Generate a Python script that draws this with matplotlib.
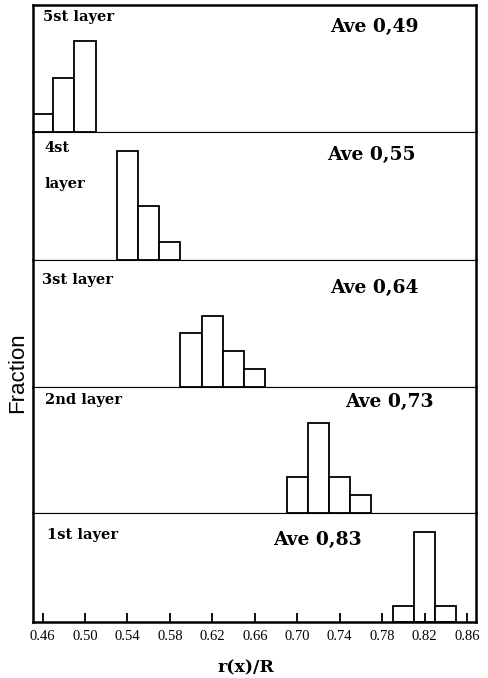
import numpy as np
import matplotlib
matplotlib.use("Agg")
import matplotlib.pyplot as plt

# histogram data, one per layer (bin centre, fraction)
layer_names = ["5st layer", "4st\n\nlayer", "3st layer", "2nd layer", "1st layer"]
averages = ["Ave 0,49", "Ave 0,55", "Ave 0,64", "Ave 0,73", "Ave 0,83"]

bins5 = [0.46, 0.48, 0.50]
frac5 = [0.10, 0.30, 0.50]
bins4 = [0.54, 0.56, 0.58]
frac4 = [0.60, 0.30, 0.10]
bins3 = [0.60, 0.62, 0.64, 0.66]
frac3 = [0.30, 0.39, 0.20, 0.10]
bins2 = [0.70, 0.72, 0.74, 0.76]
frac2 = [0.20, 0.50, 0.20, 0.10]
bins1 = [0.80, 0.82, 0.84]
frac1 = [0.09, 0.50, 0.09]

xticks = [0.46, 0.50, 0.54, 0.58, 0.62, 0.66, 0.70, 0.74, 0.78, 0.82, 0.86]
xtick_labels = ["0.46", "0.50", "0.54", "0.58", "0.62", "0.66", "0.70",
                "0.74", "0.78", "0.82", "0.86"]

all_bins = [bins5, bins4, bins3, bins2, bins1]
all_frac = [frac5, frac4, frac3, frac2, frac1]

# layout in pixels (figure 489 x 678)
W, H = 489, 678
left_px, right_px = 33, 476
edges_px = [5, 132, 260, 387, 513, 622]   # panel boundaries from the top
px_per_unit = 181.0                       # pixels per unit of fraction

# label placement (axes fractions)
name_pos = [(0.023, 0.905), (0.025, 0.735), (0.020, 0.84), (0.028, 0.90), (0.032, 0.80)]
ave_pos = [(0.67, 0.83), (0.664, 0.82), (0.67, 0.78), (0.704, 0.88), (0.542, 0.75)]

fig = plt.figure(figsize=(W / 100, H / 100), dpi=100)
serif = "DejaVu Serif"

axes = []
for i in range(5):
    top, bot = edges_px[i], edges_px[i + 1]
    ax = fig.add_axes([left_px / W, (H - bot) / H,
                       (right_px - left_px) / W, (bot - top) / H])
    ax.bar(all_bins[i], all_frac[i], width=0.02, color="white",
           edgecolor="black", linewidth=1.3, align="center")
    ax.set_xlim(0.451, 0.8685)
    ax.set_ylim(0, (bot - top) / px_per_unit)
    ax.set_yticks([])
    for side in ["left", "right"]:
        ax.spines[side].set_linewidth(1.8)
    ax.spines["top"].set_linewidth(1.8 if i == 0 else 0.8)
    ax.spines["bottom"].set_linewidth(1.8 if i == 4 else 0.8)

    nx, ny = name_pos[i]
    ax.text(nx, ny, layer_names[i], transform=ax.transAxes, fontsize=10.5,
            fontweight="bold", family=serif, va="center", ha="left",
            linespacing=1.35)
    axx, axy = ave_pos[i]
    ax.text(axx, axy, averages[i], transform=ax.transAxes, fontsize=13.5,
            fontweight="bold", family=serif, va="center", ha="left")

    if i < 4:
        ax.set_xticks([])
    else:
        ax.set_xticks(xticks)
        ax.set_xticklabels(xtick_labels, family="Liberation Serif", fontsize=10.5)
        ax.tick_params(axis="x", direction="in", length=6.5, width=1.3, pad=6)
    axes.append(ax)

fig.text(246 / W, 1 - 668 / H, "r(x)/R", ha="center", va="center",
         fontsize=12.5, fontweight="bold", family=serif)
fig.text(18 / W, 1 - 373 / H, "Fraction", ha="center", va="center",
         rotation=90, fontsize=16, family="Liberation Sans")

fig.savefig("out.png", dpi=100)
